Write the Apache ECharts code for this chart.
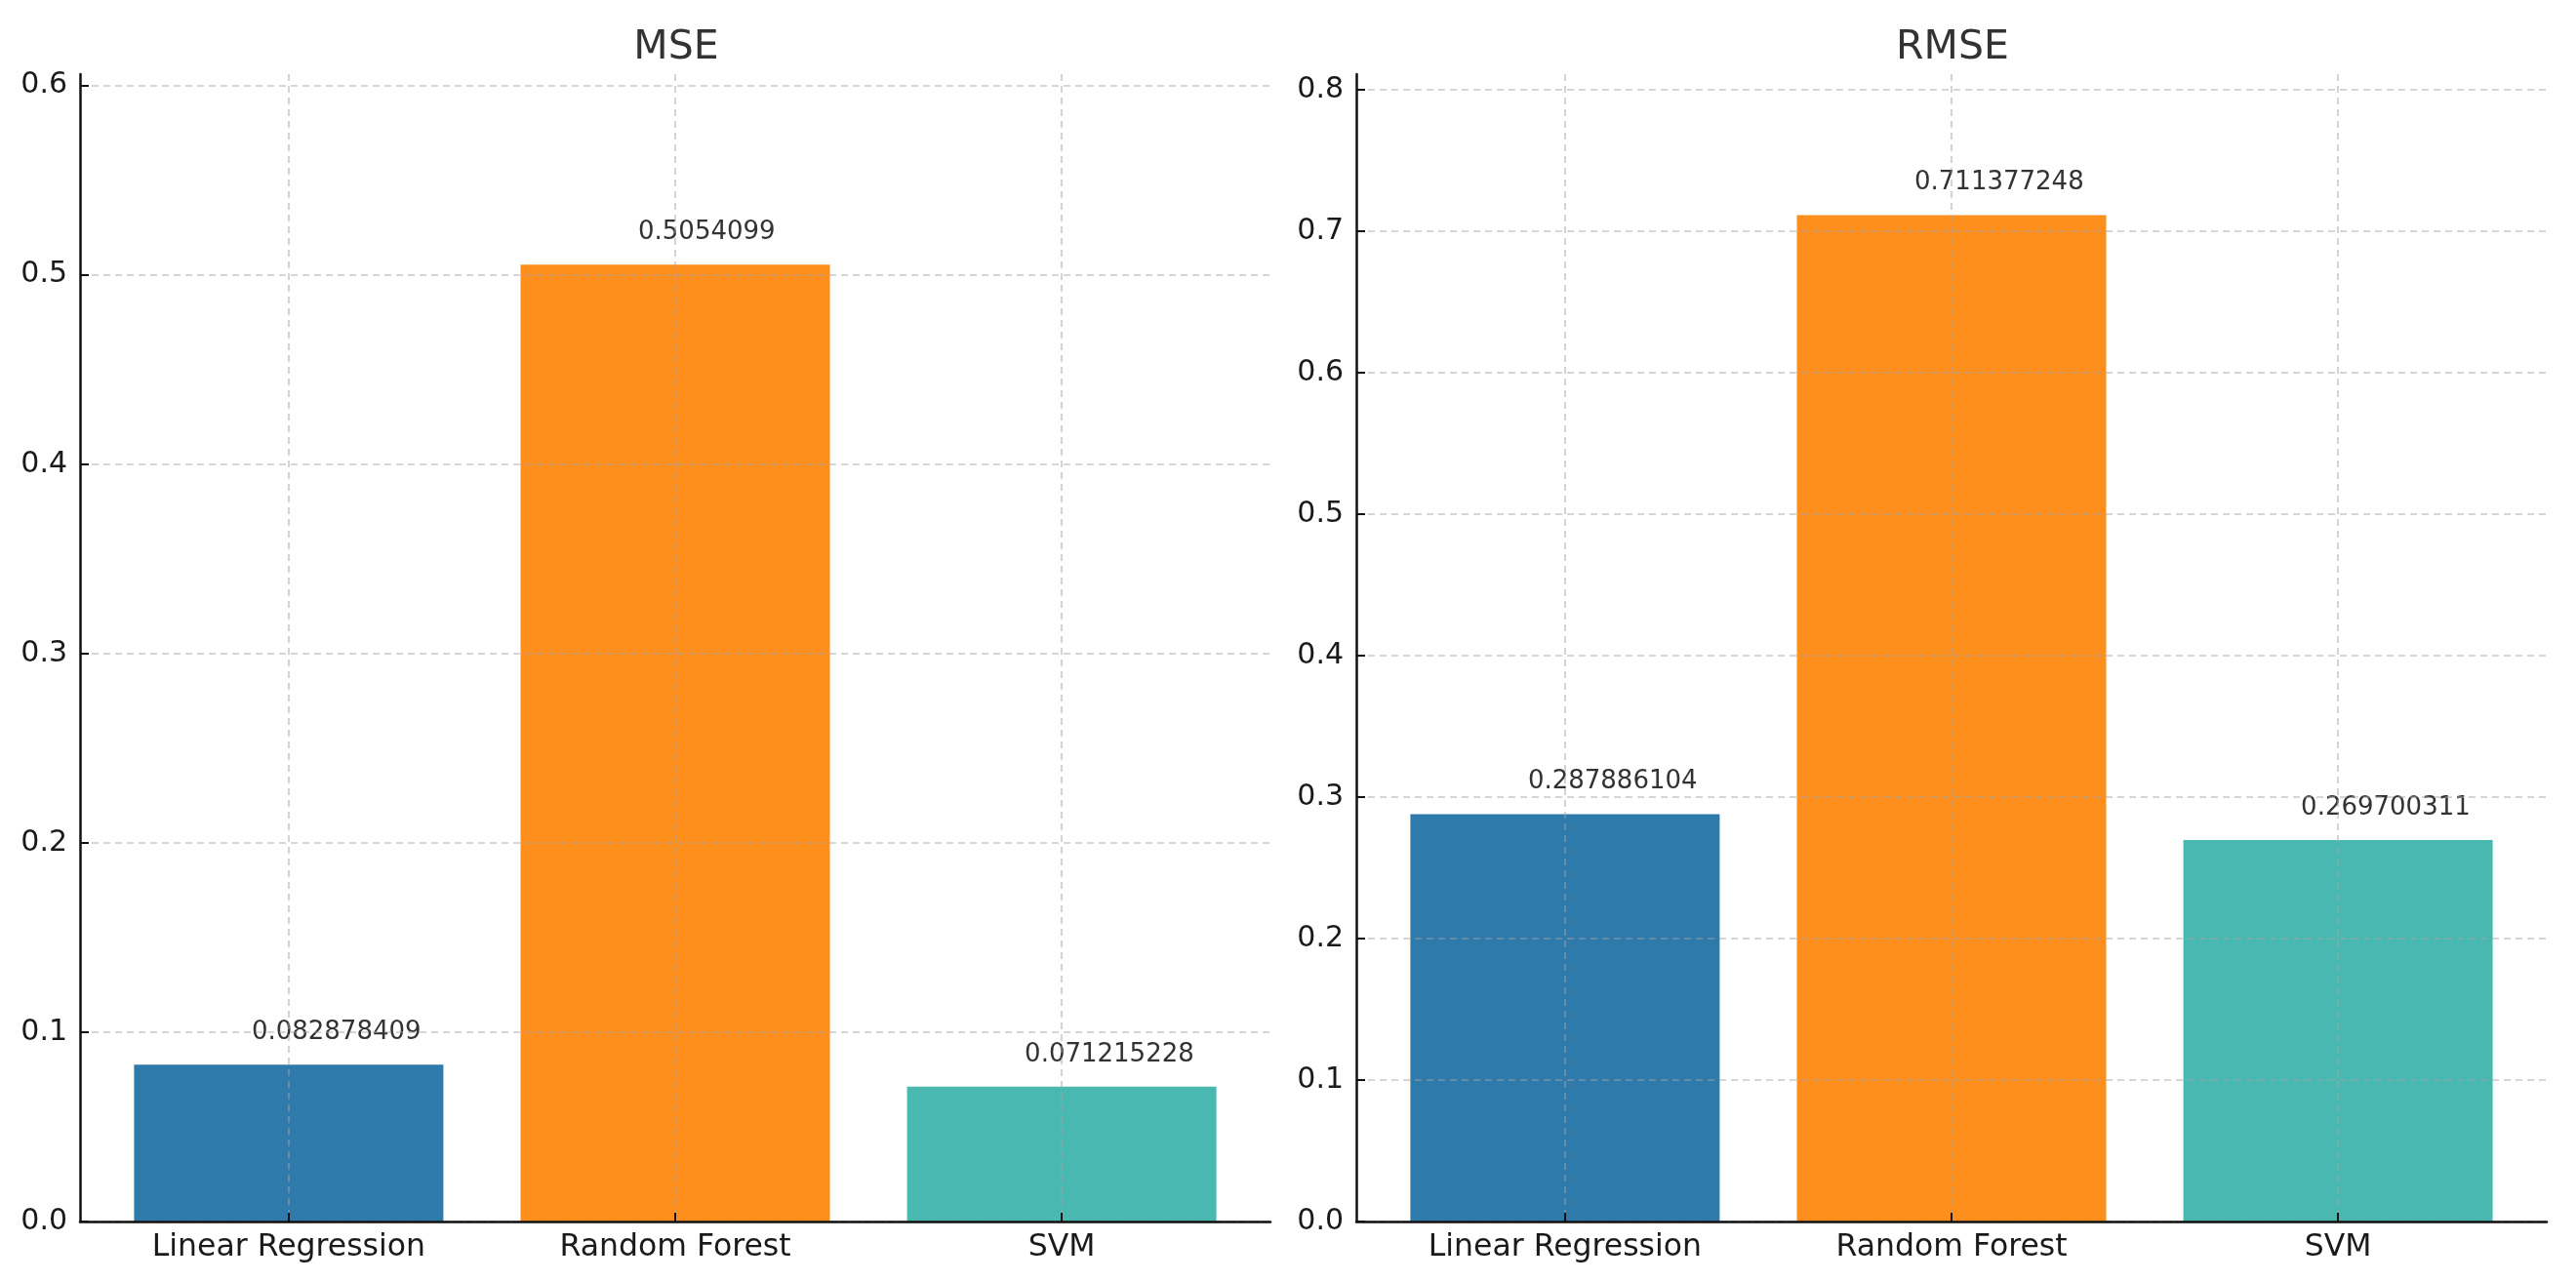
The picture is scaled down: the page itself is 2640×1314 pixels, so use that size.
<!DOCTYPE html>
<html>
<head>
<meta charset="utf-8">
<script src="https://cdn.jsdelivr.net/npm/echarts@6/dist/echarts.min.js"></script>
<style>
  html, body { margin: 0; padding: 0; background: #ffffff; }
  #chart { width: 2640px; height: 1314px; }
</style>
</head>
<body>
<div id="chart"></div>
<script>
// ---- data ----
const categories = ['Linear Regression', 'Random Forest', 'SVM'];
const mseValues = [0.082878409, 0.5054099, 0.071215228];
const rmseValues = [0.287886104, 0.711377248, 0.269700311];
const barColors = ['#2E7AAB', '#FF8F1C', '#48B8B1'];
const mseTicks = [0, 0.1, 0.2, 0.3, 0.4, 0.5, 0.6];
const rmseTicks = [0, 0.1, 0.2, 0.3, 0.4, 0.5, 0.6, 0.7, 0.8];
const panelTitles = ['MSE', 'RMSE'];

const FONT = 'DejaVu Sans';
const catPositions = categories.map((c, i) => i);

function xAxisFor(gi) {
  return {
    type: 'value', gridIndex: gi, min: -0.54, max: 2.54, z: 3,
    axisLine: { show: true, onZero: false, lineStyle: { color: '#111', width: 2.5 } },
    axisTick: { show: true, inside: true, length: 9, customValues: catPositions, lineStyle: { color: '#111', width: 2 } },
    axisLabel: {
      show: true, customValues: catPositions, margin: 11,
      fontFamily: FONT, fontSize: 31.5, color: '#1a1a1a',
      formatter: v => categories[Math.round(v)]
    },
    splitLine: { show: true, lineStyle: { color: 'rgba(165,165,165,0.6)', width: 1.6, type: [7, 5] } }
  };
}
function yAxisFor(gi, ticks) {
  return {
    type: 'value', gridIndex: gi, min: 0, max: Math.max(...ticks) + (gi === 0 ? 0.006 : 0.011), z: 3,
    axisLine: { show: true, onZero: false, lineStyle: { color: '#111', width: 2.5 } },
    axisTick: { show: true, inside: true, length: 9, customValues: ticks, lineStyle: { color: '#111', width: 2 } },
    axisLabel: {
      show: true, customValues: ticks, margin: 13,
      fontFamily: FONT, fontSize: 30, color: '#1a1a1a',
      formatter: v => Number(v).toFixed(1)
    },
    splitLine: { show: true, lineStyle: { color: 'rgba(165,165,165,0.6)', width: 1.6, type: [7, 5] } }
  };
}
function seriesFor(gi, values) {
  return {
    type: 'bar', xAxisIndex: gi, yAxisIndex: gi, z: 2,
    barWidth: 317,
    data: values.map((v, i) => ({ value: [i, v], itemStyle: { color: barColors[i] } })),
    label: {
      show: true, position: 'top', distance: 20, align: 'left', offset: [-38, 0],
      fontFamily: FONT, fontSize: 26, color: '#333',
      formatter: p => String(p.value[1])
    }
  };
}

const chart = echarts.init(document.getElementById('chart'), null, { renderer: 'canvas' });
chart.setOption({
  backgroundColor: '#ffffff',
  animation: false,
  title: [
    { text: panelTitles[0], left: 688, top: 24, textAlign: 'center',
      textStyle: { fontFamily: FONT, fontSize: 41, fontWeight: 'normal', color: '#333' } },
    { text: panelTitles[1], left: 1996, top: 24, textAlign: 'center',
      textStyle: { fontFamily: FONT, fontSize: 41, fontWeight: 'normal', color: '#333' } }
  ],
  grid: [
    { left: 82, top: 76, width: 1220, height: 1176, containLabel: false },
    { left: 1390, top: 76, width: 1220, height: 1176, containLabel: false }
  ],
  xAxis: [xAxisFor(0), xAxisFor(1)],
  yAxis: [yAxisFor(0, mseTicks), yAxisFor(1, rmseTicks)],
  series: [seriesFor(0, mseValues), seriesFor(1, rmseValues)]
});
</script>
</body>
</html>
